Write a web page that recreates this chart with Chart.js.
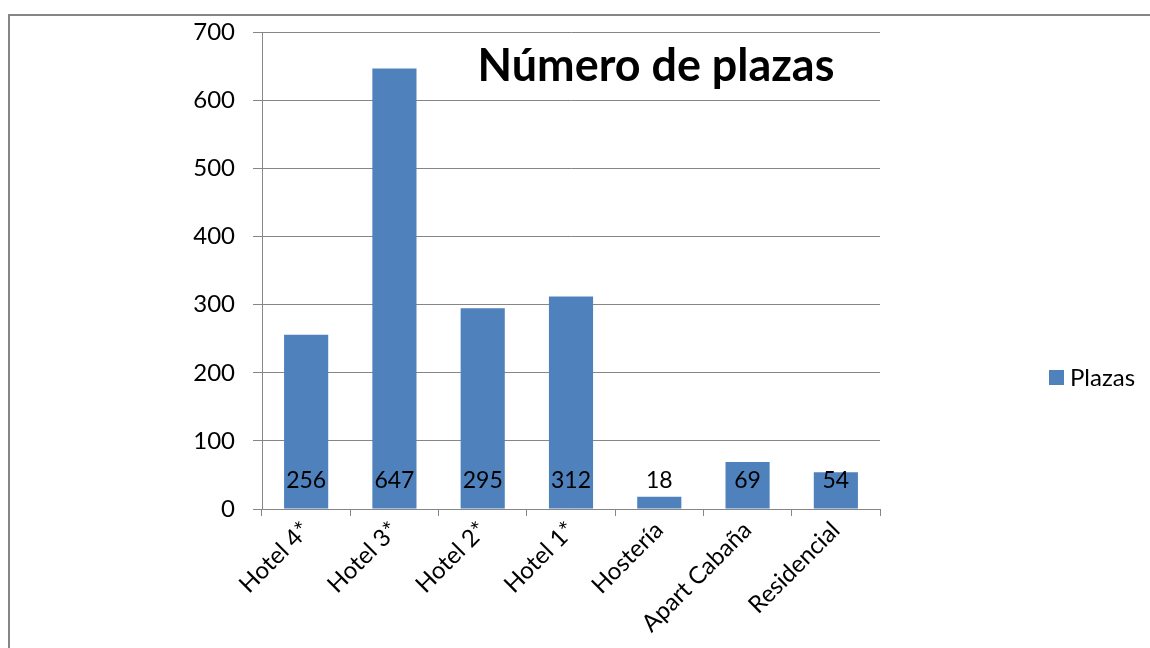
<!DOCTYPE html>
<html>
<head>
<meta charset="utf-8">
<script src="https://cdn.jsdelivr.net/npm/chart.js@4"></script>
<style>
  html, body { margin: 0; padding: 0; background: #fff; }
  canvas { display: block; }
</style>
</head>
<body>
<canvas id="chart" width="1150" height="648"></canvas>
<script>
const categories = ['Hotel 4*', 'Hotel 3*', 'Hotel 2*', 'Hotel 1*', 'Hostería', 'Apart Cabaña', 'Residencial'];
const plazas = [256, 647, 295, 312, 18, 69, 54];
const seriesName = 'Plazas';
const chartTitle = 'Número de plazas';

const FONT = 'Lato, "Open Sans", sans-serif';
const BLUE = '#4f81bd';
const GRAY = '#868686';

// outer frame, title, value labels and legend
const extras = {
  id: 'extras',
  beforeDraw(chart) {
    const ctx = chart.ctx;
    ctx.save();
    ctx.strokeStyle = GRAY;
    ctx.lineWidth = 2;
    ctx.strokeRect(9, 15, 1150, 700);
    ctx.restore();
  },
  afterDatasetsDraw(chart) {
    const ctx = chart.ctx;
    const meta = chart.getDatasetMeta(0);
    const y0 = chart.scales.y.getPixelForValue(0);
    ctx.save();
    ctx.fillStyle = '#000';
    ctx.font = '23px ' + FONT;
    ctx.textAlign = 'center';
    ctx.textBaseline = 'middle';
    meta.data.forEach((bar, i) => {
      ctx.fillText(String(plazas[i]), bar.x, y0 - 28);
    });

    // title inside plot
    ctx.font = 'bold 36px ' + FONT;
    const w = ctx.measureText(chartTitle).width;
    const size = 36 * 357 / w;
    ctx.font = 'bold ' + size.toFixed(1) + 'px ' + FONT;
    ctx.fillText(chartTitle, 656, 67);

    // legend
    ctx.fillStyle = BLUE;
    ctx.fillRect(1049, 370, 15, 15);
    ctx.fillStyle = '#000';
    ctx.font = '24px ' + FONT;
    ctx.textAlign = 'left';
    ctx.fillText(seriesName, 1070, 378);
    ctx.restore();
  }
};

new Chart(document.getElementById('chart'), {
  type: 'bar',
  data: {
    labels: categories,
    datasets: [{
      label: seriesName,
      data: plazas,
      backgroundColor: BLUE,
      barPercentage: 0.5,
      categoryPercentage: 1.0
    }]
  },
  options: {
    responsive: false,
    animation: false,
    layout: { padding: { left: 0, top: 31, right: 270, bottom: 0 } },
    plugins: {
      legend: { display: false },
      title: { display: false },
      tooltip: { enabled: false }
    },
    scales: {
      y: {
        min: 0,
        max: 700,
        ticks: { stepSize: 100, color: '#000', font: { size: 24, family: FONT }, padding: 18 },
        grid: { color: GRAY, lineWidth: 1, tickLength: 9 },
        border: { color: GRAY },
        afterFit(scale) { scale.width = 262; }
      },
      x: {
        ticks: { color: '#000', font: { size: 24, family: FONT }, minRotation: 45, maxRotation: 45, padding: 0 },
        grid: { color: GRAY, drawOnChartArea: false, offset: true, tickLength: 7 },
        border: { color: GRAY },
        afterFit(scale) { scale.height = 139; }
      }
    }
  },
  plugins: [extras]
});
</script>
</body>
</html>
